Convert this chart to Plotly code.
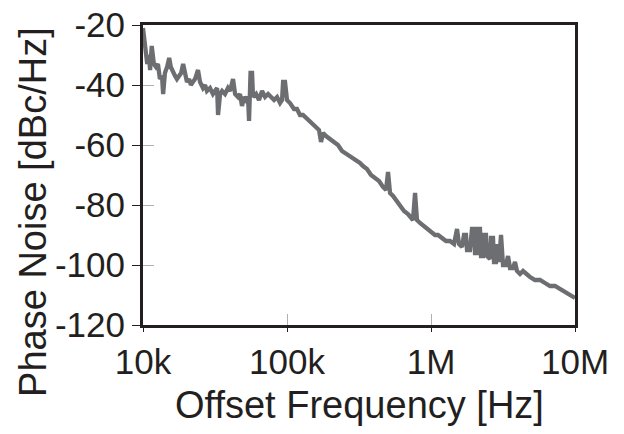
import plotly.graph_objects as go

# Offset frequency in kHz
freq_khz = [
    10.0, 10.3, 10.7, 11.0, 11.2, 11.5, 11.9, 12.3, 12.7, 13.1, 13.55, 13.8, 14.2, 14.7,
    15.2, 15.6, 16.2, 16.7, 17.2, 17.8, 18.4, 19.0, 19.6, 20.2, 20.9, 21.5, 22.2, 23.0,
    24.1, 24.9, 26.1, 27.0, 27.8, 29.2, 30.6, 31.6, 32.7, 33.2, 34.3, 35.4, 37.1, 38.9,
    40.2, 42.2, 43.6, 45.7, 47.2, 48.7, 50.3, 51.9, 53.6, 54.5, 55.4, 55.8, 57.2, 58.1,
    61.0, 63.9, 67.1, 70.4, 73.9, 77.5, 81.3, 85.3, 89.5, 92.4, 93.9, 96.9, 98.5, 100.0,
    104.9, 111.9, 117.3, 123.1, 129.2, 135.5, 144.5, 151.6, 159.0, 166.8, 172.3, 177.9,
    186.6, 198.9, 212.0, 226.0, 241.0, 261.1, 282.8, 301.4, 321.3, 337.1, 359.4, 383.1,
    408.4, 435.6, 464.1, 487.2, 503.1, 519.4, 545.0, 581.0, 609.5, 649.4, 692.3, 726.3,
    749.9, 774.9, 799.4, 838.7, 894.9, 953.2, 1000, 1066, 1119, 1192, 1271, 1355, 1445,
    1516, 1565, 1642, 1695, 1750, 1779, 1866, 1926, 1989, 2021, 2087, 2120, 2189, 2225,
    2297, 2334, 2410, 2449, 2569, 2611, 2696, 2739, 2828, 2873, 2966, 3064, 3163, 3319,
    3427, 3538, 3712, 3831, 3956, 4150, 4356, 4570, 4872, 5275, 5717, 6190, 6709, 7263,
    7867, 8530, 9240, 10000,
]

# Phase noise in dBc/Hz
phase_noise = [
    -21, -26, -33, -30, -35, -27, -33, -34, -33, -38, -37, -43, -36, -34,
    -31, -34, -36, -37, -38, -37, -36, -33, -37, -39, -38, -40, -39, -38,
    -35, -39, -41, -40, -42, -41, -43, -42, -41, -50, -43, -42, -43, -41,
    -42, -38, -43, -44, -43, -47, -44, -45, -44, -52, -45, -36, -36, -44,
    -43, -45, -42, -44, -43, -44, -45, -44, -46, -45, -39, -39, -45, -45,
    -46, -48, -48, -50, -50, -51, -52, -53, -54, -55, -59, -56,
    -57, -58, -59, -60, -62, -63, -64, -65, -66, -67, -68, -70,
    -71, -72, -74, -75, -69, -76, -77, -79, -80, -82, -83, -84,
    -85, -76, -85, -86, -87, -88, -89, -90, -90, -91, -92, -92, -93,
    -88, -93, -94, -90, -90, -95, -95, -88, -88, -96, -96, -88, -88, -97,
    -97, -90, -90, -97, -98, -91, -91, -99, -99, -93, -99, -90, -100, -100,
    -97, -101, -101, -99, -102, -103, -102, -103, -104, -105, -105, -106, -107, -107,
    -108, -109, -110, -111,
]

x_tickvals = [1e4, 1e5, 1e6, 1e7]
x_ticktext = ["10k", "100k", "1M", "10M"]
y_tickvals = [-20, -40, -60, -80, -100, -120]
y_ticktext = ["-20", "-40", "-60", "-80", "-100", "-120"]
y_minor = [-40, -60, -80, -100]
x_minor = [1e5, 1e6]

freq_hz = [f * 1000 for f in freq_khz]

FONT = "Arial, Liberation Sans, Helvetica, sans-serif"
DARK = "#231f20"

fig = go.Figure()
fig.add_trace(go.Scatter(
    x=freq_hz, y=phase_noise, mode="lines",
    line=dict(color="#6d6e71", width=4.3),
    showlegend=False,
))

fig.update_layout(
    width=624, height=434,
    margin=dict(l=143, r=49, t=25, b=109),
    paper_bgcolor="white", plot_bgcolor="white",
    font=dict(family=FONT, color=DARK, size=35),
)
fig.update_xaxes(
    type="log", range=[4, 7], automargin=False,
    tickvals=x_tickvals, ticktext=x_ticktext,
    ticks="outside", ticklen=4, tickwidth=1, tickcolor=DARK,
    tickfont=dict(size=35, family=FONT, color=DARK),
    showline=True, mirror=True, linewidth=3, linecolor=DARK,
    showgrid=False, zeroline=False,
    minor=dict(tickmode="array", tickvals=x_minor, ticks="inside", ticklen=11,
               tickwidth=1, tickcolor="#b0b0b0", showgrid=False),
)
fig.update_yaxes(
    range=[-120, -20], automargin=False,
    tickvals=y_tickvals, ticktext=y_ticktext,
    ticks="outside", ticklen=8, tickwidth=1, tickcolor=DARK,
    tickfont=dict(size=35, family=FONT, color=DARK),
    showline=True, mirror=True, linewidth=3, linecolor=DARK,
    showgrid=False, zeroline=False,
    minor=dict(tickmode="array", tickvals=y_minor, ticks="inside", ticklen=11,
               tickwidth=1, tickcolor="#b0b0b0", showgrid=False),
)
fig.add_annotation(
    text="Phase Noise [dBc/Hz]", textangle=-90,
    xref="paper", yref="paper", x=-0.2546, y=0.377,
    xanchor="center", yanchor="middle", showarrow=False,
    font=dict(size=38, family=FONT, color=DARK),
)
fig.add_annotation(
    text="Offset Frequency [Hz]",
    xref="paper", yref="paper", x=0.5, y=-0.267,
    xanchor="center", yanchor="middle", showarrow=False,
    font=dict(size=38, family=FONT, color=DARK),
)

fig.write_html("out.html", config={"displayModeBar": False},
               post_script="document.body.style.margin='0';")
